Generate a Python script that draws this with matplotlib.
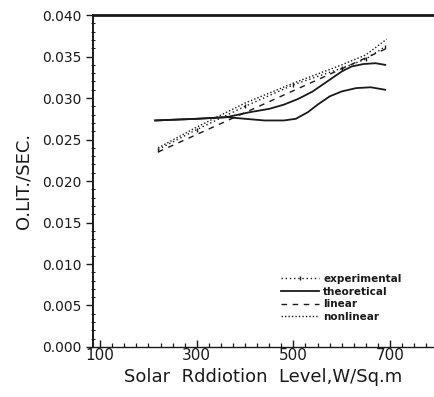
import matplotlib.pyplot as plt
from matplotlib.ticker import MultipleLocator, FixedLocator

# Solar radiation level (W/sq.m) and flow rate (lit/sec) readings
theo_hi_x = [214, 300, 362, 410, 450, 480, 510, 540, 570, 600, 620, 645, 670, 690]
theo_hi_y = [0.0273, 0.0275, 0.0277, 0.0283, 0.0287, 0.0292, 0.0299, 0.0308, 0.0320, 0.0332, 0.0338, 0.0341, 0.0342, 0.0340]

theo_lo_x = [214, 300, 362, 400, 440, 480, 505, 530, 550, 575, 600, 630, 660, 690]
theo_lo_y = [0.0273, 0.0275, 0.0277, 0.0275, 0.0273, 0.0273, 0.0275, 0.0283, 0.0292, 0.0302, 0.0308, 0.0312, 0.0313, 0.0310]

exp_x = [220, 300, 400, 500, 600, 650, 690]
exp_y = [0.0238, 0.0262, 0.0290, 0.0316, 0.0336, 0.0347, 0.0362]

lin_x = [220, 690]
lin_y = [0.0235, 0.0359]

nonlin_x = [220, 300, 400, 500, 600, 650, 693]
nonlin_y = [0.0240, 0.0265, 0.0294, 0.0318, 0.0340, 0.0352, 0.0371]

x_ticks = [100, 300, 500, 700]
y_ticks = [0.000, 0.005, 0.010, 0.015, 0.020, 0.025, 0.030, 0.035, 0.040]

ink = '#1a1a1a'

fig = plt.figure(figsize=(4.34, 3.97), dpi=100)
ax = fig.add_axes([0.214, 0.126, 0.786, 0.836])

ax.plot(exp_x, exp_y, color=ink, lw=1.0, ls=(0, (1, 2)),
        marker='|', markersize=3, label='experimental')
ax.plot(theo_hi_x, theo_hi_y, color=ink, lw=1.3, label='theoretical')
ax.plot(theo_lo_x, theo_lo_y, color=ink, lw=1.3)
ax.plot(lin_x, lin_y, color=ink, lw=1.0, ls=(0, (4, 4)), label='linear')
ax.plot(nonlin_x, nonlin_y, color=ink, lw=1.0, ls=(0, (1, 1.5)), label='nonlinear')

ax.set_xlim(85, 791)
ax.set_ylim(0.0, 0.040)

ax.xaxis.set_major_locator(FixedLocator(x_ticks))
ax.xaxis.set_minor_locator(MultipleLocator(25))
ax.yaxis.set_major_locator(FixedLocator(y_ticks))
ax.yaxis.set_minor_locator(MultipleLocator(0.001))
ax.set_yticklabels([f'{v:.3f}' for v in y_ticks])

ax.tick_params(axis='y', which='major', direction='out', length=5, width=1.0,
               labelsize=10, colors=ink, pad=3)
ax.tick_params(axis='y', which='minor', direction='inout', length=3, width=0.8, colors=ink)
ax.tick_params(axis='x', which='major', direction='in', length=5, width=1.0,
               labelsize=11, colors=ink, pad=1)
ax.tick_params(axis='x', which='minor', direction='in', length=3, width=0.9, colors=ink)

ax.spines['right'].set_visible(False)
ax.spines['top'].set_linewidth(2.0)
ax.spines['left'].set_linewidth(1.4)
ax.spines['bottom'].set_linewidth(1.0)
for s in ax.spines.values():
    s.set_color(ink)

ax.set_xlabel('Solar  Rddiotion  Level,W/Sq.m', fontsize=13, color=ink, labelpad=3)
ax.set_ylabel('O.LIT./SEC.', fontsize=13, color=ink, labelpad=7)

leg = ax.legend(loc='lower right', bbox_to_anchor=(0.92, 0.06), frameon=False,
                fontsize=7.5, handlelength=3.6, handletextpad=0.4,
                labelspacing=0.25, borderpad=0)
for t in leg.get_texts():
    t.set_fontweight('bold')
    t.set_color(ink)

fig.savefig('out.png', dpi=100)
